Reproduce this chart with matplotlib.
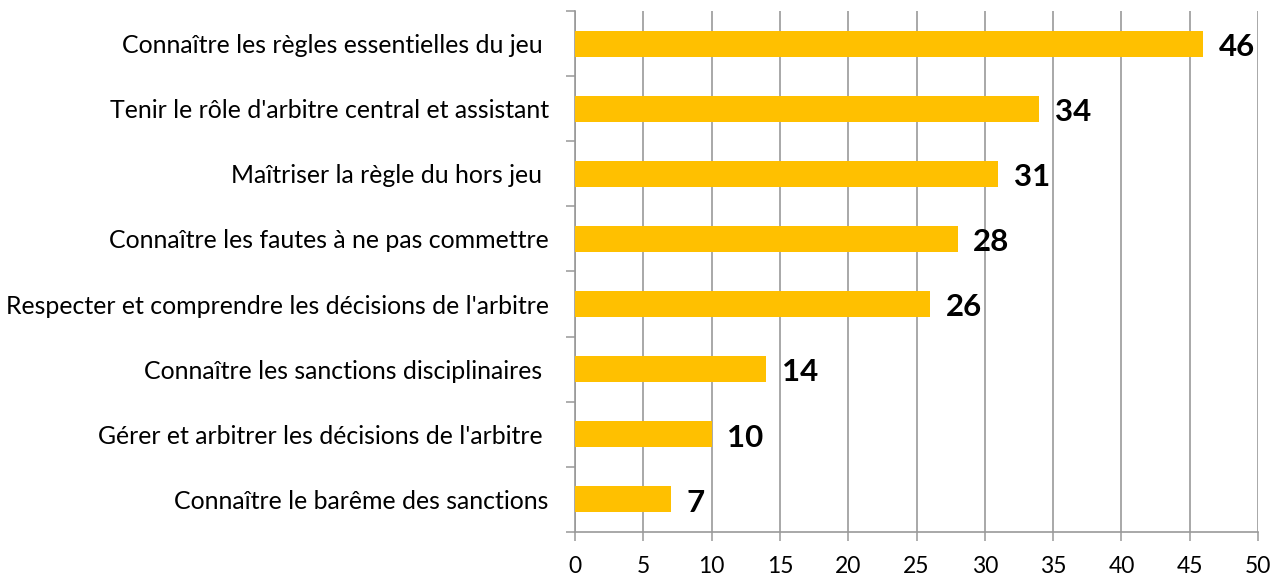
import matplotlib.pyplot as plt
import numpy as np

# data, top to bottom as in the picture
categories = [
    "Connaître les règles essentielles du jeu ",
    "Tenir le rôle d'arbitre central et assistant",
    "Maîtriser la règle du hors jeu ",
    "Connaître les fautes à ne pas commettre",
    "Respecter et comprendre les décisions de l'arbitre",
    "Connaître les sanctions disciplinaires ",
    "Gérer et arbitrer les décisions de l'arbitre ",
    "Connaître le barême des sanctions",
]
values = [46, 34, 31, 28, 26, 14, 10, 7]
xticks = [0, 5, 10, 15, 20, 25, 30, 35, 40, 45, 50]

plt.rcParams['font.family'] = ['Lato', 'DejaVu Sans']
grey = "#999999"

fig = plt.figure(figsize=(12.87, 5.79), dpi=100)
ax = fig.add_axes([0.4468, 0.0812, 0.5307, 0.8998])

# reverse so first category is on top
y = np.arange(len(categories))[::-1]
ax.barh(y, values, height=0.4, color="#FFC000", zorder=3)

for yy, v in zip(y, values):
    ax.text(v + 1.15, yy - 0.05, str(v), va="center", ha="left",
            fontsize=22.5, fontweight="bold", color="black")

ax.set_xlim(0, 50)
ax.set_ylim(-0.5, len(categories) - 0.5)
ax.set_xticks(xticks)
ax.set_xticklabels([str(t) for t in xticks], fontsize=16.5)
ax.set_yticks(y)
ax.set_yticklabels(categories, fontsize=17.9)
ax.set_yticks(np.arange(-0.5, len(categories)), minor=True)

ax.tick_params(axis="y", which="major", length=0, pad=19)
ax.tick_params(axis="y", which="minor", length=6.5, color=grey, width=1.1)
ax.tick_params(axis="x", length=6.5, color=grey, width=1.1, pad=11)

ax.grid(axis="x", color=grey, linewidth=1.2, zorder=0)
for s in ["top", "right"]:
    ax.spines[s].set_visible(False)
for s in ["left", "bottom"]:
    ax.spines[s].set_color(grey)
    ax.spines[s].set_linewidth(1.2)

fig.savefig("out.png", dpi=100)
